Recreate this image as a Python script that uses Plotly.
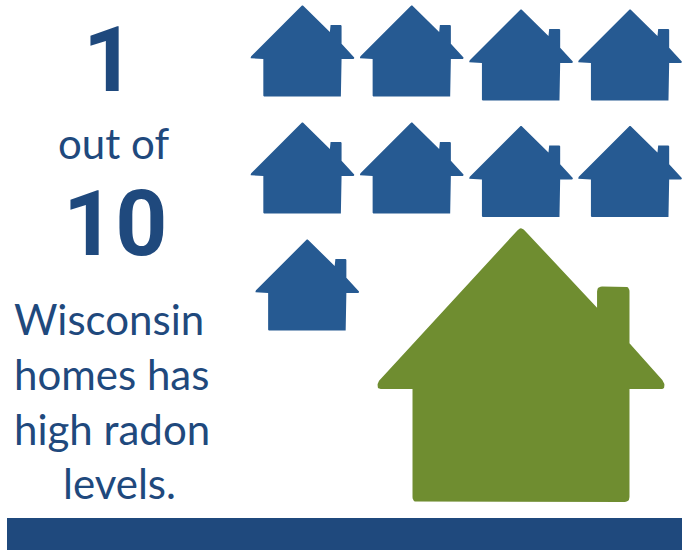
import math
import plotly.graph_objects as go

# Statistic shown by the pictogram
total_homes = 10
high_radon_homes = 1
headline_lines = ["Wisconsin", "homes has", "high radon", "levels."]
connector = "out of"

# Colours
NAVY = "#1F497D"
HOME_BLUE = "#265A92"
HIGH_GREEN = "#6F8D30"

# House outline in unit coordinates, v grows downwards
HOUSE_OUTLINE = [
    (0.50, 0.00), (0.765, 0.295), (0.765, 0.218), (0.878, 0.218), (0.878, 0.424),
    (1.00, 0.566), (1.00, 0.590), (0.878, 0.590), (0.878, 1.00), (0.122, 1.00),
    (0.122, 0.590), (0.00, 0.590), (0.00, 0.566),
]

# Left and top of each ordinary home, filled row by row
HOME_SLOTS = [
    (250.7, 5.0), (360.0, 5.0), (469.3, 9.0), (578.3, 9.0),
    (250.7, 122.0), (360.0, 122.0), (469.3, 125.5), (578.3, 125.5),
    (255.5, 239.0),
]
HOME_SIZE = (103.5, 91.5)
HIGH_BOX = (377.5, 226.5, 287.0, 275.5)


def rounded(points, radius):
    """Return closed outline coordinates with the outer corners eased."""
    xs, ys = [], []
    n = len(points)
    for i, (px, py) in enumerate(points):
        ax, ay = points[i - 1]
        bx, by = points[(i + 1) % n]
        la = math.hypot(ax - px, ay - py)
        lb = math.hypot(bx - px, by - py)
        # The outline runs clockwise on screen, so inner corners turn the other way
        cross = (px - ax) * (by - py) - (py - ay) * (bx - px)
        if cross <= 0:
            xs.append(px)
            ys.append(py)
            continue
        r = min(radius, la / 2, lb / 2)
        sx, sy = px + (ax - px) * r / la, py + (ay - py) * r / la
        ex, ey = px + (bx - px) * r / lb, py + (by - py) * r / lb
        for k in range(7):
            t = k / 6
            xs.append((1 - t) ** 2 * sx + 2 * t * (1 - t) * px + t ** 2 * ex)
            ys.append((1 - t) ** 2 * sy + 2 * t * (1 - t) * py + t ** 2 * ey)
    xs.append(xs[0])
    ys.append(ys[0])
    return xs, ys


def house(left, top, width, height, colour, radius):
    pts = [(left + u * width, top + v * height) for u, v in HOUSE_OUTLINE]
    xs, ys = rounded(pts, radius)
    return go.Scatter(
        x=xs, y=ys, mode="lines", fill="toself", fillcolor=colour,
        line=dict(width=0, color=colour), hoverinfo="skip", showlegend=False,
    )


fig = go.Figure()

for left, top in HOME_SLOTS[: total_homes - high_radon_homes]:
    fig.add_trace(house(left, top, *HOME_SIZE, HOME_BLUE, 0.7))
fig.add_trace(house(*HIGH_BOX, HIGH_GREEN, 5))


def label(text, x, y, size, family, weight="normal"):
    fig.add_annotation(
        x=x, y=y, xref="x", yref="y", text=text, showarrow=False,
        xanchor="center", yanchor="middle",
        font=dict(size=size, family=family, color=NAVY, weight=weight),
    )


label(str(high_radon_homes), 109, 60, 91, "Roboto", "bold")
label(connector, 113, 143, 42, "Lato")
label(str(total_homes), 115, 224, 91, "Roboto", "bold")
for text, cx, cy in zip(headline_lines, [109, 111, 112, 119], [319, 374, 429, 483]):
    label(text, cx, cy, 42, "Lato")

fig.update_layout(
    width=687, height=550, margin=dict(l=0, r=0, t=0, b=0),
    paper_bgcolor="white", plot_bgcolor="white", showlegend=False,
    xaxis=dict(range=[0, 687], visible=False, fixedrange=True),
    yaxis=dict(range=[550, 0], visible=False, fixedrange=True),
    shapes=[dict(type="rect", xref="x", yref="y", x0=7, x1=682, y0=518, y1=550,
                 fillcolor=NAVY, line=dict(width=0), layer="below")],
)

fig.write_html("out.html", config=dict(displayModeBar=False))
